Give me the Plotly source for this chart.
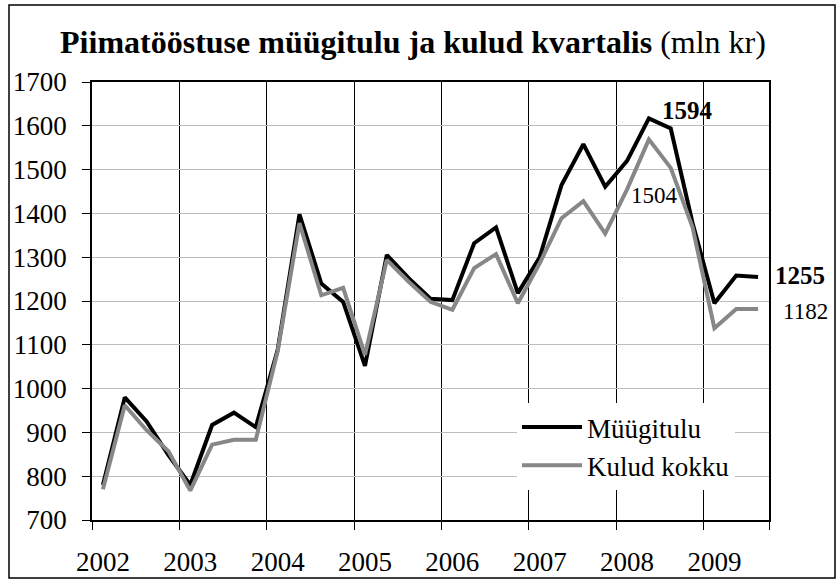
import plotly.graph_objects as go

years = [2002, 2003, 2004, 2005, 2006, 2007, 2008, 2009]
quarters = [y + (q - 0.5) / 4 for y in years for q in range(1, 5)][:31]

myygitulu = [780, 980, 925, 848, 780, 917, 945, 912, 1088, 1398, 1240, 1198,
             1052, 1305, 1252, 1205, 1202, 1332, 1368, 1218, 1300, 1465, 1558, 1461,
             1520, 1617, 1594, 1378, 1195, 1258, 1255]
kulud = [770, 962, 905, 857, 767, 872, 883, 883, 1085, 1378, 1213, 1230,
         1077, 1294, 1244, 1198, 1180, 1275, 1307, 1195, 1286, 1389, 1428, 1354,
         1455, 1569, 1504, 1368, 1138, 1182, 1182]
year_labels = [str(y) for y in years]
y_ticks = list(range(700, 1701, 100))

FONT = "Liberation Serif, Times New Roman, serif"
W, H = 840, 581
L, R, T, B = 92, 71, 82, 61
pw, ph = W - L - R, H - T - B

fig = go.Figure()
fig.add_trace(go.Scatter(x=quarters, y=myygitulu, mode="lines", name="Müügitulu",
                         line=dict(color="black", width=4)))
fig.add_trace(go.Scatter(x=quarters, y=kulud, mode="lines", name="Kulud kokku",
                         line=dict(color="#878787", width=4)))

def px2x(px):
    return (px - L) / pw

def px2y(py):
    return (H - B - py) / ph

fig.add_annotation(x=quarters[26], y=myygitulu[26], text="<b>1594</b>", showarrow=False,
                   xshift=17, yshift=18, font=dict(family=FONT, size=25, color="black"))
fig.add_annotation(x=quarters[26], y=kulud[26], text="1504", showarrow=False,
                   xshift=-16, yshift=-28, font=dict(family=FONT, size=23, color="black"))
fig.add_annotation(x=quarters[30], y=myygitulu[30], text="<b>1255</b>", showarrow=False,
                   xshift=42, yshift=1, font=dict(family=FONT, size=25, color="black"))
fig.add_annotation(x=quarters[30], y=kulud[30], text="1182", showarrow=False,
                   xshift=47, yshift=-3, font=dict(family=FONT, size=23, color="black"))

fig.add_shape(type="rect", xref="paper", yref="paper",
              x0=px2x(9), x1=px2x(835), y0=px2y(578), y1=px2y(5),
              line=dict(color="black", width=1.5), layer="below")

fig.update_layout(
    width=W, height=H,
    margin=dict(l=L, r=R, t=T, b=B, autoexpand=False),
    paper_bgcolor="white", plot_bgcolor="white",
    font=dict(family=FONT, size=27, color="black"),
    title=dict(text="<b>Piimatööstuse müügitulu ja kulud kvartalis</b> (mln kr)",
               x=413 / W, y=1 - 42 / H, xanchor="center", yanchor="middle",
               font=dict(family=FONT, size=32, color="black")),
    showlegend=True,
    legend=dict(x=px2x(517), y=px2y(403), xanchor="left", yanchor="top",
                bgcolor="white", borderwidth=0, font=dict(family=FONT, size=27),
                itemwidth=60),
    xaxis=dict(range=[2002, 2009.75], tickmode="array", automargin=False,
               tickvals=[y + 0.125 for y in years], ticktext=year_labels,
               ticks="", showgrid=False, showline=True, linecolor="black", linewidth=1.5,
               mirror=True, zeroline=False, ticklabelstandoff=17,
               tickfont=dict(family=FONT, size=27),
               minor=dict(tickmode="array", tickvals=years + [2009.75], ticks="outside",
                          ticklen=8, tickcolor="black", showgrid=True,
                          gridcolor="black", gridwidth=1)),
    yaxis=dict(range=[700, 1700], tickmode="array", tickvals=y_ticks, automargin=False,
               ticks="outside", ticklen=8, tickcolor="black",
               showgrid=True, gridcolor="#bdbdbd", gridwidth=1,
               showline=True, linecolor="black", linewidth=1.5, mirror=True,
               zeroline=False, ticklabelstandoff=10,
               tickfont=dict(family=FONT, size=27)),
)

fig.write_html("out.html", post_script="document.body.style.margin='0px';",
               config={"displayModeBar": False})
